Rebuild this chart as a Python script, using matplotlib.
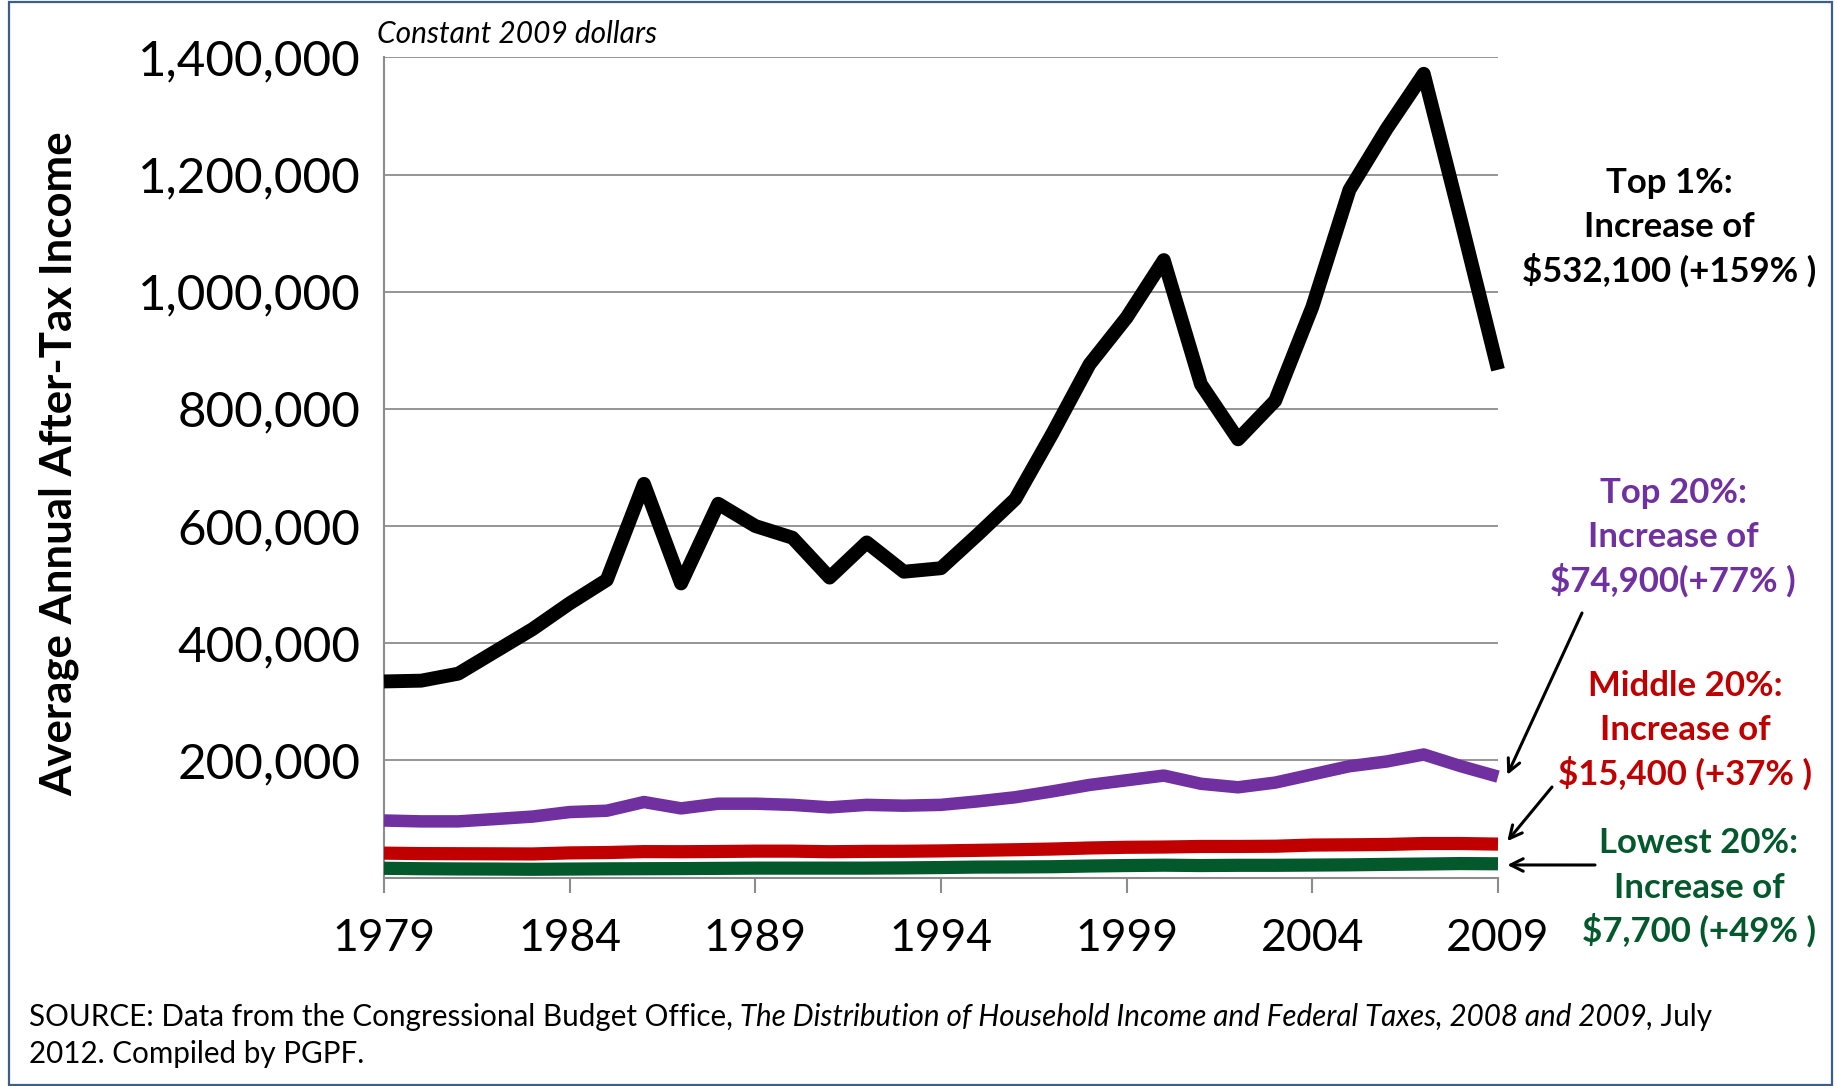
import matplotlib
matplotlib.use("Agg")
import matplotlib.pyplot as plt
from matplotlib.patches import Rectangle

# Average annual after-tax household income, constant 2009 dollars
years = list(range(1979, 2010))

top1 = [334700, 336000, 348000, 386000, 424000, 468000, 508000, 672000, 502000, 638000,
        600000, 580000, 512000, 572000, 522000, 528000, 586000, 646000, 758000, 876000,
        956000, 1054000, 842000, 748000, 814000, 974000, 1174000, 1278000, 1372000, 1122000,
        866800]

top20 = [97300, 95800, 95800, 99800, 104000, 111700, 114000, 128800, 118000, 126000,
         126000, 124000, 119700, 124000, 122600, 124000, 130000, 137000, 147000, 158000,
         166000, 174000, 160000, 154000, 162000, 176000, 190000, 198000, 210000, 190000,
         172200]

middle20 = [41600, 40800, 40600, 40400, 40200, 42000, 42600, 44200, 44000, 44400,
            45000, 45000, 44000, 44600, 44800, 45400, 46400, 47400, 48600, 50400,
            51600, 52000, 53000, 53000, 53400, 55400, 55800, 56400, 58000, 58000,
            57000]

lowest20 = [15700, 15000, 14600, 14400, 14000, 14400, 14800, 15000, 15200, 15600,
            16000, 16000, 16000, 16000, 16400, 17000, 17800, 18000, 18400, 19600,
            20400, 21000, 20400, 20800, 20800, 21200, 21600, 22400, 23000, 23800,
            23400]

x_ticks = [1979, 1984, 1989, 1994, 1999, 2004, 2009]
y_ticks = [0, 200000, 400000, 600000, 800000, 1000000, 1200000, 1400000]
y_tick_labels = ["", "200,000", "400,000", "600,000", "800,000", "1,000,000", "1,200,000", "1,400,000"]

callouts = [
    ("Top 1%:", "Increase of", "$532,100 (+159% )"),
    ("Top 20%:", "Increase of", "$74,900(+77% )"),
    ("Middle 20%:", "Increase of", "$15,400 (+37% )"),
    ("Lowest 20%:", "Increase of", "$7,700 (+49% )"),
]

BLACK = "#000000"
PURPLE = "#7030A0"
RED = "#C00000"
GREEN = "#03592B"
GRID = "#8C8C8C"

plt.rcParams["font.family"] = ["Lato", "DejaVu Sans"]

W, H = 1837, 1086
fig = plt.figure(figsize=(W / 100, H / 100), dpi=100)

def fx(px):
    return px / W

def fy(py):
    return 1 - py / H

ax_left, ax_right, ax_top, ax_bottom = 384, 1498, 57.4, 877.5
ax = fig.add_axes([fx(ax_left), fy(ax_bottom), (ax_right - ax_left) / W, (ax_bottom - ax_top) / H])
ax.set_xlim(1979, 2009)
ax.set_ylim(0, 1400000)

ax.set_yticks(y_ticks)
ax.set_yticklabels(y_tick_labels)
ax.set_xticks(x_ticks)
ax.set_xticklabels([str(y) for y in x_ticks])

ax.yaxis.grid(True, color=GRID, linewidth=1.3, zorder=0)
ax.set_axisbelow(True)
for side in ("top", "right"):
    ax.spines[side].set_visible(False)
for side in ("left", "bottom"):
    ax.spines[side].set_color(GRID)
    ax.spines[side].set_linewidth(1.5)

ax.tick_params(axis="y", length=0, pad=17, labelsize=35.5, labelcolor="black")
ax.tick_params(axis="x", length=11, width=1.5, color=GRID, direction="out",
               pad=18, labelsize=32, labelcolor="black")

series = [(top1, BLACK, 10), (top20, PURPLE, 9), (middle20, RED, 9.5), (lowest20, GREEN, 9.5)]
for vals, col, lw in series:
    ax.plot(years, vals, color=col, linewidth=lw, solid_capstyle="butt",
            solid_joinstyle="round", clip_on=False, zorder=3)

# Axis title and unit note
fig.text(fx(59), fy(464), "Average Annual After-Tax Income", rotation=90,
         fontsize=31.5, fontweight="bold", ha="center", va="center")
fig.text(fx(377), fy(34), "Constant 2009 dollars", fontsize=21.5, style="italic",
         ha="left", va="center")

# Callout text blocks
blocks = [
    (callouts[0], BLACK, 1669, (183, 227, 270)),
    (callouts[1], PURPLE, 1673, (493, 537, 580)),
    (callouts[2], RED, 1685, (686, 730, 773)),
    (callouts[3], GREEN, 1699, (843, 888, 930)),
]
for lines, col, cx, ys in blocks:
    for line, py in zip(lines, ys):
        fig.text(fx(cx), fy(py), line, fontsize=25, fontweight="bold", color=col,
                 ha="center", va="center")

# Arrows pointing at the 2009 end of each quintile line
arrow_props = dict(arrowstyle="->,head_length=0.9,head_width=0.45", color="black", lw=2.2,
                   shrinkA=0, shrinkB=0)
arrows = [
    ((2009.25, top20[-1] + 3000), (1582, 613)),
    ((2009.25, middle20[-1] + 5000), (1552, 787)),
    ((2009.25, lowest20[-1] - 2000), (1595, 865)),
]
for (xd, yd), (tx, ty) in arrows:
    ax.annotate("", xy=(xd, yd), xycoords="data", xytext=(tx, H - ty),
                textcoords="figure pixels", arrowprops=arrow_props,
                annotation_clip=False)

# Source note, with the report title set in italics
src_size = 21.3
t1 = fig.text(fx(29), fy(1017), "SOURCE: Data from the Congressional Budget Office,",
              fontsize=src_size, ha="left", va="center")
t2 = ax.annotate(" The Distribution of Household Income and Federal Taxes, 2008 and 2009,",
                 xy=(1, 0.5), xycoords=t1, fontsize=src_size, style="italic",
                 ha="left", va="center", annotation_clip=False)
ax.annotate(" July", xy=(1, 0.5), xycoords=t2, fontsize=src_size,
            ha="left", va="center", annotation_clip=False)
fig.text(fx(29), fy(1054), "2012. Compiled by PGPF.", fontsize=src_size,
         ha="left", va="center")

# Frame around the whole graphic
fig.patches.append(Rectangle((fx(9), fy(1085)), fx(1832) - fx(9), fy(2) - fy(1085),
                             transform=fig.transFigure, fill=False,
                             edgecolor="#3B5F8C", linewidth=1.6))

fig.savefig("out.png", dpi=100)
